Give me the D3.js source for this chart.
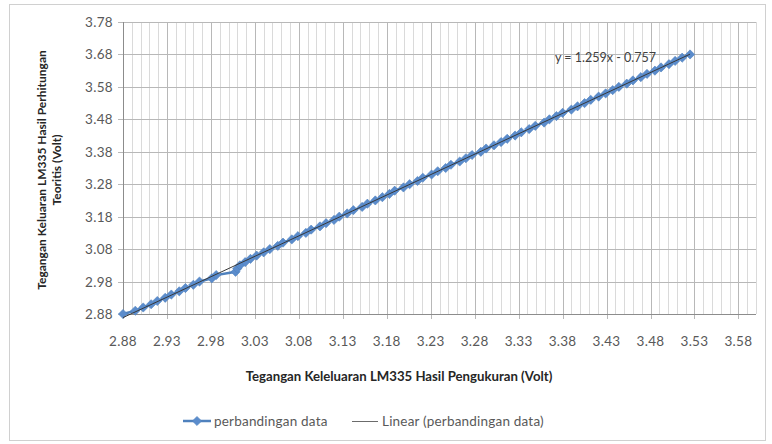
<!DOCTYPE html>
<html>
<head>
<meta charset="utf-8">
<script src="https://cdn.jsdelivr.net/npm/d3@7"></script>
<style>
  html, body { margin: 0; padding: 0; background: #fff; }
  svg { display: block; }
</style>
</head>
<body>
<svg id="chart" width="772" height="444"></svg>
<script>
// Theoretical LM335 output (Volt), one reading per degree
const teoritis = [
  2.88, 2.89, 2.90, 2.91, 2.92, 2.93, 2.94, 2.95, 2.96, 2.97,
  2.98, 2.99, 3.00, 3.01, 3.02, 3.03, 3.04, 3.05, 3.06, 3.07,
  3.08, 3.09, 3.10, 3.11, 3.12, 3.13, 3.14, 3.15, 3.16, 3.17,
  3.18, 3.19, 3.20, 3.21, 3.22, 3.23, 3.24, 3.25, 3.26, 3.27,
  3.28, 3.29, 3.30, 3.31, 3.32, 3.33, 3.34, 3.35, 3.36, 3.37,
  3.38, 3.39, 3.40, 3.41, 3.42, 3.43, 3.44, 3.45, 3.46, 3.47,
  3.48, 3.49, 3.50, 3.51, 3.52, 3.53, 3.54, 3.55, 3.56, 3.57,
  3.58, 3.59, 3.60, 3.61, 3.62, 3.63, 3.64, 3.65, 3.66, 3.67,
  3.68
];
// Measured LM335 output (Volt)
const pengukuran = [
  2.880, 2.894, 2.903, 2.912, 2.919, 2.928, 2.935, 2.944, 2.951, 2.960,
  2.967, 2.981, 2.986, 3.008, 3.010, 3.013, 3.019, 3.025, 3.032, 3.040,
  3.047, 3.056, 3.062, 3.072, 3.079, 3.088, 3.094, 3.104, 3.111, 3.120,
  3.126, 3.135, 3.142, 3.152, 3.158, 3.167, 3.175, 3.183, 3.189, 3.199,
  3.206, 3.215, 3.221, 3.231, 3.238, 3.247, 3.253, 3.263, 3.270, 3.277,
  3.287, 3.293, 3.302, 3.310, 3.317, 3.326, 3.333, 3.342, 3.349, 3.359,
  3.365, 3.373, 3.380, 3.390, 3.397, 3.405, 3.412, 3.421, 3.429, 3.437,
  3.444, 3.453, 3.460, 3.469, 3.476, 3.485, 3.492, 3.501, 3.508, 3.516,
  3.525
];
// Axis tick labels
const xTicks = ["2.88","2.93","2.98","3.03","3.08","3.13","3.18","3.23","3.28","3.33","3.38","3.43","3.48","3.53","3.58"];
const yTicks = ["2.88","2.98","3.08","3.18","3.28","3.38","3.48","3.58","3.68","3.78"];
// Linear trendline coefficients
const slope = 1.259, intercept = -0.757;

const font = "Lato, 'Open Sans', sans-serif";
const svg = d3.select("#chart");

// outer chart frame
svg.append("rect").attr("x", 9.5).attr("y", 4.5).attr("width", 756).attr("height", 436)
  .attr("fill", "#fff").attr("stroke", "#d0d0d0").attr("stroke-width", 1);

const x = d3.scaleLinear().domain([2.88, 3.60]).range([123, 756]);
const y = d3.scaleLinear().domain([2.88, 3.78]).range([314, 22]);

const g = svg.append("g");

// minor vertical gridlines every 0.01
const minor = d3.range(0, 73).map(i => +(2.88 + i * 0.01).toFixed(2));
g.append("g").selectAll("line").data(minor).join("line")
  .attr("x1", d => Math.round(x(d)) + 0.5).attr("x2", d => Math.round(x(d)) + 0.5)
  .attr("y1", y(3.78)).attr("y2", y(2.88))
  .attr("stroke", "#dadada").attr("stroke-width", 1);

// major gridlines
g.append("g").selectAll("line").data(xTicks.map(Number)).join("line")
  .attr("x1", d => Math.round(x(d)) + 0.5).attr("x2", d => Math.round(x(d)) + 0.5)
  .attr("y1", y(3.78)).attr("y2", y(2.88) + 5)
  .attr("stroke", "#b8b8b8").attr("stroke-width", 1);
g.append("g").selectAll("line").data(yTicks.map(Number)).join("line")
  .attr("x1", x(2.88) - 5).attr("x2", x(3.60))
  .attr("y1", d => Math.round(y(d)) + 0.5).attr("y2", d => Math.round(y(d)) + 0.5)
  .attr("stroke", "#b8b8b8").attr("stroke-width", 1);

// axis lines
g.append("line").attr("x1", Math.round(x(2.88)) + 0.5).attr("x2", Math.round(x(2.88)) + 0.5)
  .attr("y1", y(3.78)).attr("y2", y(2.88)).attr("stroke", "#8c8c8c");
g.append("line").attr("x1", x(2.88)).attr("x2", x(3.60))
  .attr("y1", Math.round(y(2.88)) + 0.5).attr("y2", Math.round(y(2.88)) + 0.5).attr("stroke", "#8c8c8c");

// tick labels
g.append("g").selectAll("text").data(xTicks).join("text")
  .attr("x", d => x(+d)).attr("y", 346)
  .attr("text-anchor", "middle").attr("font-family", font).attr("font-size", 13.5)
  .attr("letter-spacing", 0.3).attr("fill", "#595959").text(d => d);
g.append("g").selectAll("text").data(yTicks).join("text")
  .attr("x", 113).attr("y", d => y(+d) + 5)
  .attr("text-anchor", "end").attr("font-family", font).attr("font-size", 13.5)
  .attr("letter-spacing", 0.3).attr("fill", "#595959").text(d => d);

// data series: line plus diamond markers
const pts = pengukuran.map((v, i) => [v, teoritis[i]]);
const blue = "#4f81bd";
const mark = "#5b8ccc";
const diamond = r => `M0,${-r}L${r},0L0,${r}L${-r},0Z`;
g.append("path").datum(pts)
  .attr("d", d3.line().x(d => x(d[0])).y(d => y(d[1])))
  .attr("fill", "none").attr("stroke", blue).attr("stroke-width", 2.5);
g.append("g").selectAll("path").data(pts).join("path")
  .attr("transform", d => `translate(${x(d[0])},${y(d[1])})`)
  .attr("d", diamond(4.6)).attr("fill", mark).attr("stroke", blue).attr("stroke-width", 0.6);

// linear trendline
const xr = d3.extent(pengukuran);
g.append("line")
  .attr("x1", x(xr[0])).attr("y1", y(slope * xr[0] + intercept))
  .attr("x2", x(xr[1])).attr("y2", y(slope * xr[1] + intercept))
  .attr("stroke", "#383838").attr("stroke-width", 1);

// trendline equation
svg.append("text").attr("x", 555).attr("y", 62)
  .attr("font-family", font).attr("font-size", 12.5).attr("fill", "#404040")
  .text(`y = ${slope}x - ${Math.abs(intercept)}`);

// axis titles
svg.append("text").attr("x", 399).attr("y", 381).attr("text-anchor", "middle")
  .attr("font-family", font).attr("font-size", 13.2).attr("font-weight", "bold").attr("fill", "#262626")
  .text("Tegangan Keleluaran LM335 Hasil Pengukuran (Volt)");
const yt = svg.append("text").attr("transform", "translate(0,170) rotate(-90)")
  .attr("text-anchor", "middle").attr("font-family", font).attr("font-size", 12)
  .attr("font-weight", "bold").attr("fill", "#262626");
yt.append("tspan").attr("x", 0).attr("y", 46).text("Tegangan Keluaran LM335 Hasil Perhitungan");
yt.append("tspan").attr("x", 0).attr("y", 61).text("Teoritis (Volt)");

// legend
const lg = svg.append("g").attr("font-family", font).attr("font-size", 13.5)
  .attr("letter-spacing", 0.2).attr("fill", "#595959");
lg.append("line").attr("x1", 183).attr("x2", 211).attr("y1", 421).attr("y2", 421)
  .attr("stroke", blue).attr("stroke-width", 2.5);
lg.append("path").attr("transform", "translate(197,421)").attr("d", diamond(4.6))
  .attr("fill", mark).attr("stroke", blue).attr("stroke-width", 0.6);
lg.append("text").attr("x", 214).attr("y", 426).text("perbandingan data");
lg.append("line").attr("x1", 352).attr("x2", 378).attr("y1", 421.5).attr("y2", 421.5)
  .attr("stroke", "#6b6b6b").attr("stroke-width", 1);
lg.append("text").attr("x", 382).attr("y", 426).text("Linear (perbandingan data)");
</script>
</body>
</html>
